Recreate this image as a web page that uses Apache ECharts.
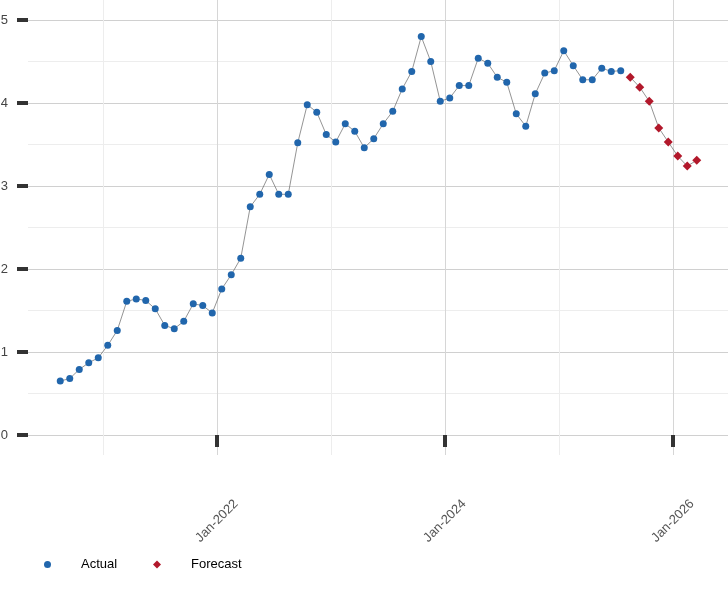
<!DOCTYPE html>
<html><head><meta charset="utf-8">
<script src="https://cdn.jsdelivr.net/npm/echarts@6/dist/echarts.min.js"></script>
<style>html,body{margin:0;padding:0;background:#fff}#c{width:728px;height:600px}</style>
</head><body><div id="c"></div>
<script>
// ---- data ----
const seriesNames = ['Actual', 'Forecast'];
const actualStart = '2020-08';
const actualValues = [
  0.65, 0.68, 0.79, 0.87, 0.93,
  1.08, 1.26, 1.61, 1.64, 1.62, 1.52, 1.32, 1.28, 1.37, 1.58, 1.56, 1.47,
  1.76, 1.93, 2.13, 2.75, 2.90, 3.14, 2.90, 2.90, 3.52, 3.98, 3.89, 3.62,
  3.53, 3.75, 3.66, 3.46, 3.57, 3.75, 3.90, 4.17, 4.38, 4.80, 4.50, 4.02,
  4.06, 4.21, 4.21, 4.54, 4.48, 4.31, 4.25, 3.87, 3.72, 4.11, 4.36, 4.39,
  4.63, 4.45, 4.28, 4.28, 4.42, 4.38, 4.39
];
const forecastStart = '2025-08';
const forecastValues = [4.31, 4.19, 4.02, 3.70, 3.53, 3.36, 3.24, 3.31];
const xTickYears = [2022, 2024, 2026];
const yTickValues = [0, 1, 2, 3, 4, 5];
const baseYear = 2020;

// month index (mid-month) counted from Jan of baseYear
function monthPos(start, i) {
  const p = start.split('-').map(Number);
  return (p[0] - baseYear) * 12 + (p[1] - 1) + i + 0.5;
}
const actualData = actualValues.map((v, i) => [monthPos(actualStart, i), v]);
const forecastData = forecastValues.map((v, i) => [monthPos(forecastStart, i), v]);

const FONT = '"Liberation Sans", Arial, sans-serif';
const chart = echarts.init(document.getElementById('c'), null, {renderer: 'canvas'});
chart.setOption({
  animation: false,
  backgroundColor: '#ffffff',
  grid: [
    {left: -11, top: 0, width: 912, height: 455, containLabel: false, outerBoundsMode: 'none'},
    {left: 28, right: 0, top: 20, height: 415, containLabel: false, outerBoundsMode: 'none'}
  ],
  xAxis: [
    {
      gridIndex: 0, type: 'value', min: 0, max: 96, interval: 24,
      axisLine: {show: false},
      axisTick: {show: true, length: 12, lineStyle: {color: '#333333', width: 4}},
      axisLabel: {
        show: true, rotate: 45, align: 'center', verticalAlign: 'middle', margin: 66,
        color: '#555555', fontSize: 13, fontFamily: FONT, showMinLabel: false,
        formatter: function (v) {
          const y = baseYear + v / 12;
          return xTickYears.indexOf(y) >= 0 ? 'Jan-' + y : '';
        }
      },
      splitLine: {show: true, showMinLine: true, showMaxLine: true, lineStyle: {color: '#d6d6d6', width: 1}},
      minorTick: {show: false, splitNumber: 2},
      minorSplitLine: {show: true, lineStyle: {color: '#ededed', width: 1}}
    },
    {gridIndex: 1, type: 'value', min: 0, max: 1, show: false}
  ],
  yAxis: [
    {gridIndex: 0, type: 'value', min: -20 / 83, max: 5 + 20 / 83, show: false},
    {
      gridIndex: 1, type: 'value', min: yTickValues[0], max: yTickValues[yTickValues.length - 1], interval: 1,
      axisLine: {show: false},
      axisTick: {show: true, length: 11, lineStyle: {color: '#333333', width: 4}},
      axisLabel: {margin: 20, color: '#444444', fontSize: 13, fontFamily: FONT},
      splitLine: {show: true, lineStyle: {color: '#d0d0d0', width: 1}},
      minorTick: {show: false, splitNumber: 2},
      minorSplitLine: {show: true, lineStyle: {color: '#ededed', width: 1}}
    }
  ],
  legend: [
    {
      data: [{name: seriesNames[0], icon: 'circle'}], left: 39, top: 553,
      itemWidth: 7, itemHeight: 7, itemGap: 0, selectedMode: false,
      textStyle: {fontSize: 13, color: '#000000', fontFamily: FONT, padding: [0, 0, 0, 25]}
    },
    {
      data: [{name: seriesNames[1], icon: 'diamond'}], left: 148, top: 553,
      itemWidth: 8, itemHeight: 8, itemGap: 0, selectedMode: false,
      textStyle: {fontSize: 13, color: '#000000', fontFamily: FONT, padding: [0, 0, 0, 25]}
    }
  ],
  series: [
    {
      name: seriesNames[0], type: 'line', xAxisIndex: 0, yAxisIndex: 0,
      data: actualData, symbol: 'circle', symbolSize: 7, showAllSymbol: true,
      itemStyle: {color: '#2166ac'},
      lineStyle: {color: '#666666', width: 0.7}
    },
    {
      name: seriesNames[1], type: 'line', xAxisIndex: 0, yAxisIndex: 0,
      data: forecastData, symbol: 'diamond', symbolSize: 9, showAllSymbol: true,
      itemStyle: {color: '#b2182b'},
      lineStyle: {color: '#666666', width: 0.7}
    }
  ]
});
</script>
</body></html>
